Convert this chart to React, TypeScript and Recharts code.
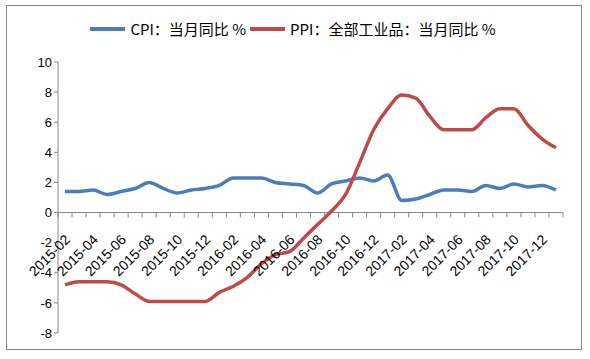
import { LineChart, Line, XAxis, YAxis, ReferenceLine } from "recharts";

const months = [
  "2015-02", "2015-03", "2015-04", "2015-05", "2015-06", "2015-07", "2015-08", "2015-09", "2015-10", "2015-11", "2015-12",
  "2016-01", "2016-02", "2016-03", "2016-04", "2016-05", "2016-06", "2016-07", "2016-08", "2016-09", "2016-10", "2016-11", "2016-12",
  "2017-01", "2017-02", "2017-03", "2017-04", "2017-05", "2017-06", "2017-07", "2017-08", "2017-09", "2017-10", "2017-11", "2017-12",
  "2018-01",
];

const cpi = [
  1.4, 1.4, 1.5, 1.2, 1.4, 1.6, 2.0, 1.6, 1.3, 1.5, 1.6,
  1.8, 2.3, 2.3, 2.3, 2.0, 1.9, 1.8, 1.3, 1.9, 2.1, 2.3, 2.1,
  2.5, 0.8, 0.9, 1.2, 1.5, 1.5, 1.4, 1.8, 1.6, 1.9, 1.7, 1.8,
  1.5,
];

const ppi = [
  -4.8, -4.6, -4.6, -4.6, -4.8, -5.4, -5.9, -5.9, -5.9, -5.9, -5.9,
  -5.3, -4.9, -4.3, -3.4, -2.8, -2.6, -1.7, -0.8, 0.1, 1.2, 3.3, 5.5,
  6.9, 7.8, 7.6, 6.4, 5.5, 5.5, 5.5, 6.3, 6.9, 6.9, 5.8, 4.9,
  4.3,
];

const yTicks = [-8, -6, -4, -2, 0, 2, 4, 6, 8, 10];

const series = [
  { key: "cpi", name: "CPI：当月同比 %", color: "#4A7EBB" },
  { key: "ppi", name: "PPI：全部工业品：当月同比 %", color: "#BE4B48" },
];

const data = months.map((m, i) => ({ month: m, cpi: cpi[i], ppi: ppi[i] }));

const W = 590;
const H = 359;
const X_AXIS_H = 20;
const MARGIN = { top: 62, right: 27, left: 8, bottom: 26 - X_AXIS_H };
const Y_AXIS_W = 50;
const PLOT_W = W - MARGIN.left - MARGIN.right - Y_AXIS_W;
const PLOT_H = H - MARGIN.top - MARGIN.bottom - X_AXIS_H;
const BAND = PLOT_W / months.length;
// the category axis crosses at value 0, like the original
const ZERO_Y = MARGIN.top + (PLOT_H * 10) / 18;
const AXIS_COLOR = "#868686";
const FONT = "'Liberation Sans', 'Noto Sans CJK SC', sans-serif";

const XTick = (props: any) => {
  const { x, index, payload } = props;
  const left = x - BAND / 2;
  const showLabel = index % 2 === 0;
  const lx = x + 6;
  const ly = ZERO_Y + 28;
  return (
    <g>
      <line x1={left} y1={ZERO_Y} x2={left} y2={ZERO_Y + 5} stroke={AXIS_COLOR} />
      {index === months.length - 1 && (
        <line x1={x + BAND / 2} y1={ZERO_Y} x2={x + BAND / 2} y2={ZERO_Y + 5} stroke={AXIS_COLOR} />
      )}
      {showLabel && (
        <text
          x={lx}
          y={ly}
          textAnchor="end"
          fontSize={14}
          fontFamily={FONT}
          fill="#000"
          transform={`rotate(-45 ${lx} ${ly})`}
        >
          {payload.value}
        </text>
      )}
    </g>
  );
};

const App = () => {
  return (
    <div style={{ position: "absolute", left: 0, top: 0, width: W, height: H, background: "#fff" }}>
      <div
        style={{
          position: "absolute",
          left: 6,
          top: 5,
          width: 576,
          height: 345,
          border: `1px solid ${AXIS_COLOR}`,
          boxSizing: "border-box",
        }}
      />
      <div
        style={{
          position: "absolute",
          left: 0,
          top: 19,
          width: W,
          display: "flex",
          justifyContent: "center",
          alignItems: "center",
          fontFamily: "'Noto Sans CJK SC', sans-serif",
          fontSize: 15,
          lineHeight: "20px",
          color: "#000",
        }}
      >
        {series.map((s) => (
          <div key={s.key} style={{ display: "flex", alignItems: "center", marginRight: 4 }}>
            <span style={{ display: "inline-block", width: 35, height: 4, background: s.color, marginRight: 5 }} />
            <span>{s.name}</span>
          </div>
        ))}
      </div>
      <div style={{ position: "absolute", left: 0, top: 0 }}>
        <LineChart width={W} height={H} data={data} margin={MARGIN}>
          <YAxis
            type="number"
            domain={[-8, 10]}
            ticks={yTicks}
            width={Y_AXIS_W}
            tickSize={4}
            axisLine={{ stroke: AXIS_COLOR }}
            tickLine={{ stroke: AXIS_COLOR }}
            tick={{ fill: "#000", fontSize: 13, fontFamily: FONT }}
            interval={0}
          />
          <XAxis
            dataKey="month"
            height={X_AXIS_H}
            interval={0}
            padding={{ left: BAND / 2, right: BAND / 2 }}
            axisLine={false}
            tickLine={false}
            tick={<XTick />}
          />
          <ReferenceLine y={0} stroke={AXIS_COLOR} />
          {series.map((s) => (
            <Line
              key={s.key}
              dataKey={s.key}
              name={s.name}
              type="monotone"
              stroke={s.color}
              strokeWidth={3.5}
              dot={false}
              isAnimationActive={false}
            />
          ))}
        </LineChart>
      </div>
    </div>
  );
};

export default App;
